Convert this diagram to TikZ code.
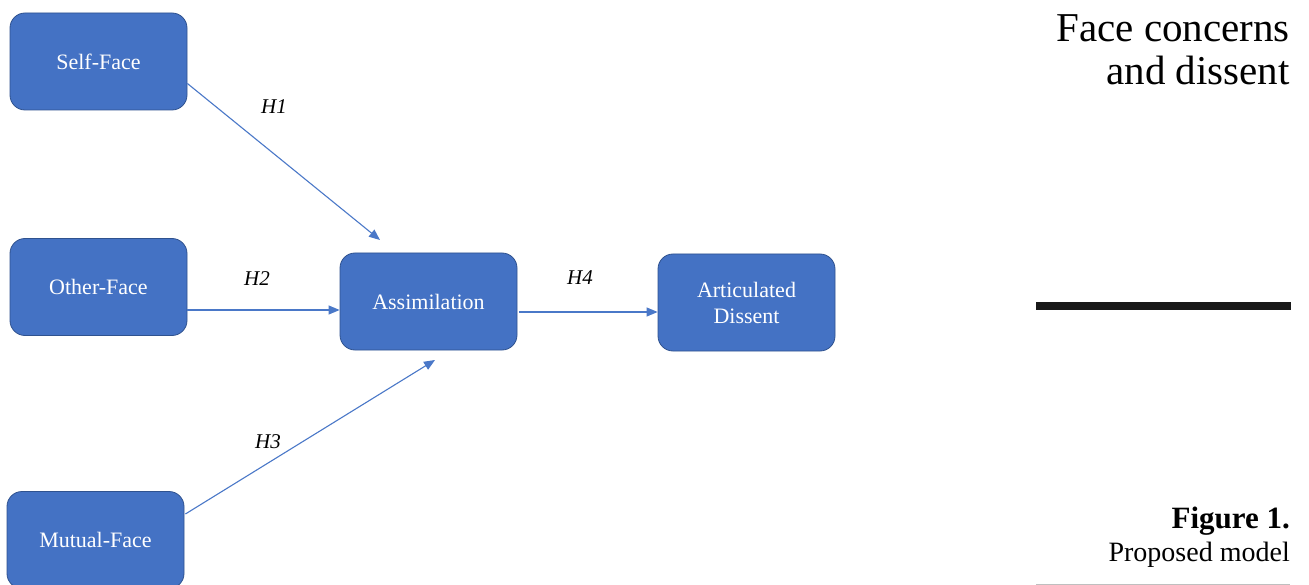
\documentclass[tikz,border=0pt]{standalone}
\usepackage{fontspec}
\setmainfont{Liberation Serif}
\usetikzlibrary{arrows.meta,calc}
\definecolor{boxblue}{HTML}{4472C4}
\definecolor{boxborder}{HTML}{2F528F}
\definecolor{arrowblue}{HTML}{4A78C8}
\begin{document}
\begin{tikzpicture}[x=1pt,y=-1pt,
  box/.style={draw=boxborder, line width=0.8pt, fill=boxblue, rounded corners=15pt,
    minimum width=177pt, minimum height=97pt, text=white, align=center,
    font=\fontsize{22}{26}\selectfont, inner sep=0pt},
  arr/.style={draw=arrowblue, line width=1.1pt, -{Triangle[length=11pt,width=9pt]}},
  hlab/.style={font=\fontsize{21}{25}\selectfont\itshape, inner sep=0pt},
  side/.style={font=\fontsize{41}{43}\selectfont, anchor=base east, inner sep=0pt}]
\useasboundingbox (0,0) rectangle (1309,585);
\fill[white] (0,0) rectangle (1309,585);

\node[box] (sf) at (98.5,61.5) {Self-Face};
\node[box] (of) at (98.5,287) {Other-Face};
\node[box] (mf) at (95.5,540) {Mutual-Face};
\node[box] (as) at (428.5,301.5) {Assimilation};
\node[box] (ad) at (746.5,302.5) {Articulated\\Dissent};

\coordinate (h1end) at (380,240);
\coordinate (h3end) at (435,360);
\coordinate (h2s) at ($(of.east)+(0,23)$);
\coordinate (h4s) at ($(as.east)+(2,10.5)$);

\draw[arr] ($(sf.east)+(0,22)$) -- (h1end);
\draw[arr] (h2s) -- (h2s -| as.west);
\draw[arr] ($(mf.east)+(1,-26)$) -- (h3end);
\draw[arr] (h4s) -- (h4s -| ad.west);

\node[hlab] (h1) at (274,107) {H1};
\node[hlab] (h2) at (257,279) {H2};
\node[hlab] (h3) at (268,442) {H3};
\node[hlab] (h4) at (580,278) {H4};

\node[side] (t1) at (1290,42) {Face concerns};
\node[side] (t2) at (1290,85) {and dissent};

\draw[line width=8pt, black!90] (1036,306) -- (1291,306);

\node[anchor=base east, inner sep=0pt, font=\fontsize{31}{32}\selectfont\bfseries] (fig) at (1290,528) {Figure 1.};
\node[anchor=base east, inner sep=0pt, font=\fontsize{28}{30}\selectfont] (cap) at (1290,561) {Proposed model};

\draw[line width=1pt, black!25] (1036,584) -- (1290,584);
\end{tikzpicture}
\end{document}
